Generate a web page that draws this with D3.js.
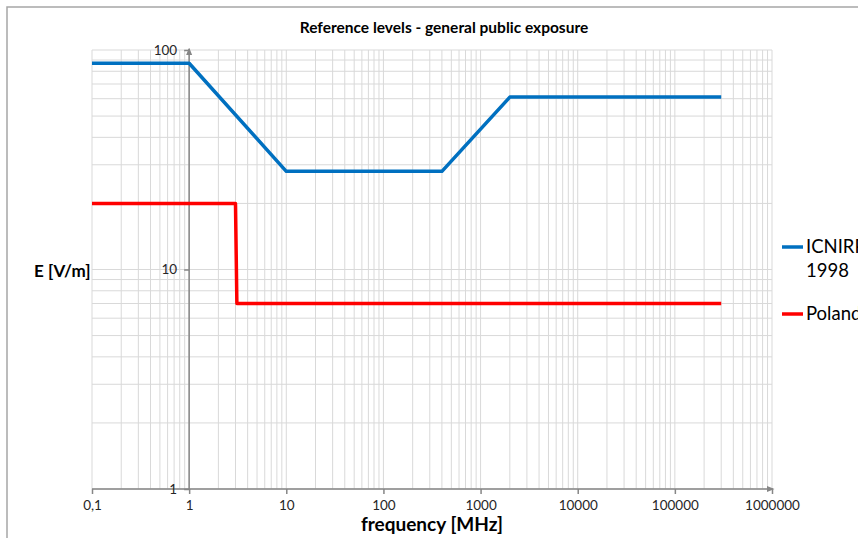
<!DOCTYPE html>
<html lang="en">
  <head>
    <title>Reference levels</title>
    <meta charset="utf-8">
    <script src="https://cdnjs.cloudflare.com/ajax/libs/d3/7.8.5/d3.min.js"></script>
    <style>
    body { margin: 0; background: #fff; }
    svg text { font-family: Lato, "Open Sans", sans-serif; fill: #000; }
    .grid line { stroke: #d9d9d9; stroke-width: 1; }
    .axis path, .axis line { stroke: #868686; stroke-width: 1.5; }
    .axis text { font-size: 13.5px; fill: #262626; }
    </style>
  </head>
  <body>
  <div id="chart"></div>
  <script>
    // frequency [MHz] / field strength [V/m]
    var icnirpFreq = [0.1, 1, 10, 400, 2000, 300000];
    var icnirpE    = [87, 87, 28, 28, 61, 61];
    var polandFreq = [0.1, 3, 3.1, 300000];
    var polandE    = [20, 20, 7, 7];

    var xTicks = [0.1, 1, 10, 100, 1000, 10000, 100000, 1000000];
    var xTickLabels = ["0,1", "1", "10", "100", "1000", "10000", "100000", "1000000"];
    var yTicks = [1, 10, 100];

    var svg = d3.select("#chart").append("svg")
      .attr("width", 858).attr("height", 538);

    // chart area frame (cut off on the right like the original)
    svg.append("path")
      .attr("d", "M7,545 L7,7 L870,7")
      .attr("fill", "none").attr("stroke", "#a6a6a6").attr("stroke-width", 1.5);

    var x = d3.scaleLog().domain([0.1, 1000000]).range([92, 772]);
    var y = d3.scaleLog().domain([1, 100]).range([489, 50]);

    // grid
    var grid = svg.append("g").attr("class", "grid");
    grid.selectAll(".v").data(x.ticks()).enter().append("line")
      .attr("x1", function(d) { return x(d); })
      .attr("x2", function(d) { return x(d); })
      .attr("y1", y(100)).attr("y2", y(1));
    grid.selectAll(".h").data(y.ticks()).enter().append("line")
      .attr("x1", x(0.1)).attr("x2", x(1000000))
      .attr("y1", function(d) { return y(d); })
      .attr("y2", function(d) { return y(d); });

    // arrow head
    svg.append("defs").append("marker")
      .attr("id", "arrow").attr("viewBox", "0 0 10 10")
      .attr("refX", 8).attr("refY", 5)
      .attr("markerWidth", 5).attr("markerHeight", 5)
      .attr("orient", "auto-start-reverse")
      .append("path").attr("d", "M0,1 L10,5 L0,9 z").attr("fill", "#868686");

    var xAxis = svg.append("g").attr("class", "axis")
      .attr("transform", "translate(0," + y(1) + ")")
      .call(d3.axisBottom(x).tickValues(xTicks).tickSize(5).tickPadding(6)
        .tickFormat(function(d, i) { return xTickLabels[i]; }));
    xAxis.select(".domain").attr("d", "M" + x(0.1) + ",0H" + (x(1000000) + 1))
      .attr("marker-end", "url(#arrow)");

    var yAxis = svg.append("g").attr("class", "axis")
      .attr("transform", "translate(" + x(1) + ",0)")
      .call(d3.axisLeft(y).tickValues(yTicks).tickSize(5).tickPadding(7)
        .tickFormat(d3.format("d")));
    yAxis.select(".domain").attr("d", "M0," + y(1) + "V" + (y(100) - 1))
      .attr("marker-end", "url(#arrow)");

    // series
    var line = d3.line()
      .x(function(d) { return x(d[0]); })
      .y(function(d) { return y(d[1]); });

    svg.append("path")
      .datum(d3.zip(icnirpFreq, icnirpE))
      .attr("d", line)
      .attr("fill", "none").attr("stroke", "#0070c0")
      .attr("stroke-width", 3.5).attr("stroke-linejoin", "round");

    svg.append("path")
      .datum(d3.zip(polandFreq, polandE))
      .attr("d", line)
      .attr("fill", "none").attr("stroke", "#ff0000")
      .attr("stroke-width", 3.5).attr("stroke-linejoin", "round");

    // titles
    svg.append("text")
      .attr("x", 444).attr("y", 33)
      .attr("text-anchor", "middle")
      .style("font-size", "15.5px").style("font-weight", "bold")
      .text("Reference levels - general public exposure");

    svg.append("text")
      .attr("x", 432).attr("y", 531)
      .attr("text-anchor", "middle")
      .style("font-size", "19px").style("font-weight", "bold")
      .text("frequency [MHz]");

    svg.append("text")
      .attr("x", 34).attr("y", 277)
      .style("font-size", "17px").style("font-weight", "bold")
      .text("E [V/m]");

    // legend
    var legend = [
      { color: "#0070c0", lines: ["ICNIRP", "1998"], y: 247 },
      { color: "#ff0000", lines: ["Poland"], y: 314 }
    ];
    var lg = svg.selectAll(".legend").data(legend).enter().append("g");
    lg.append("line")
      .attr("x1", 782).attr("x2", 803)
      .attr("y1", function(d) { return d.y; }).attr("y2", function(d) { return d.y; })
      .attr("stroke", function(d) { return d.color; }).attr("stroke-width", 3.5);
    lg.append("text")
      .attr("x", 806)
      .attr("y", function(d) { return d.y + 6; })
      .style("font-size", "18.5px")
      .selectAll("tspan").data(function(d) { return d.lines; }).enter().append("tspan")
      .attr("x", 806).attr("dy", function(d, i) { return i ? 24 : 0; })
      .text(function(d) { return d; });
  </script>
  </body>
</html>
